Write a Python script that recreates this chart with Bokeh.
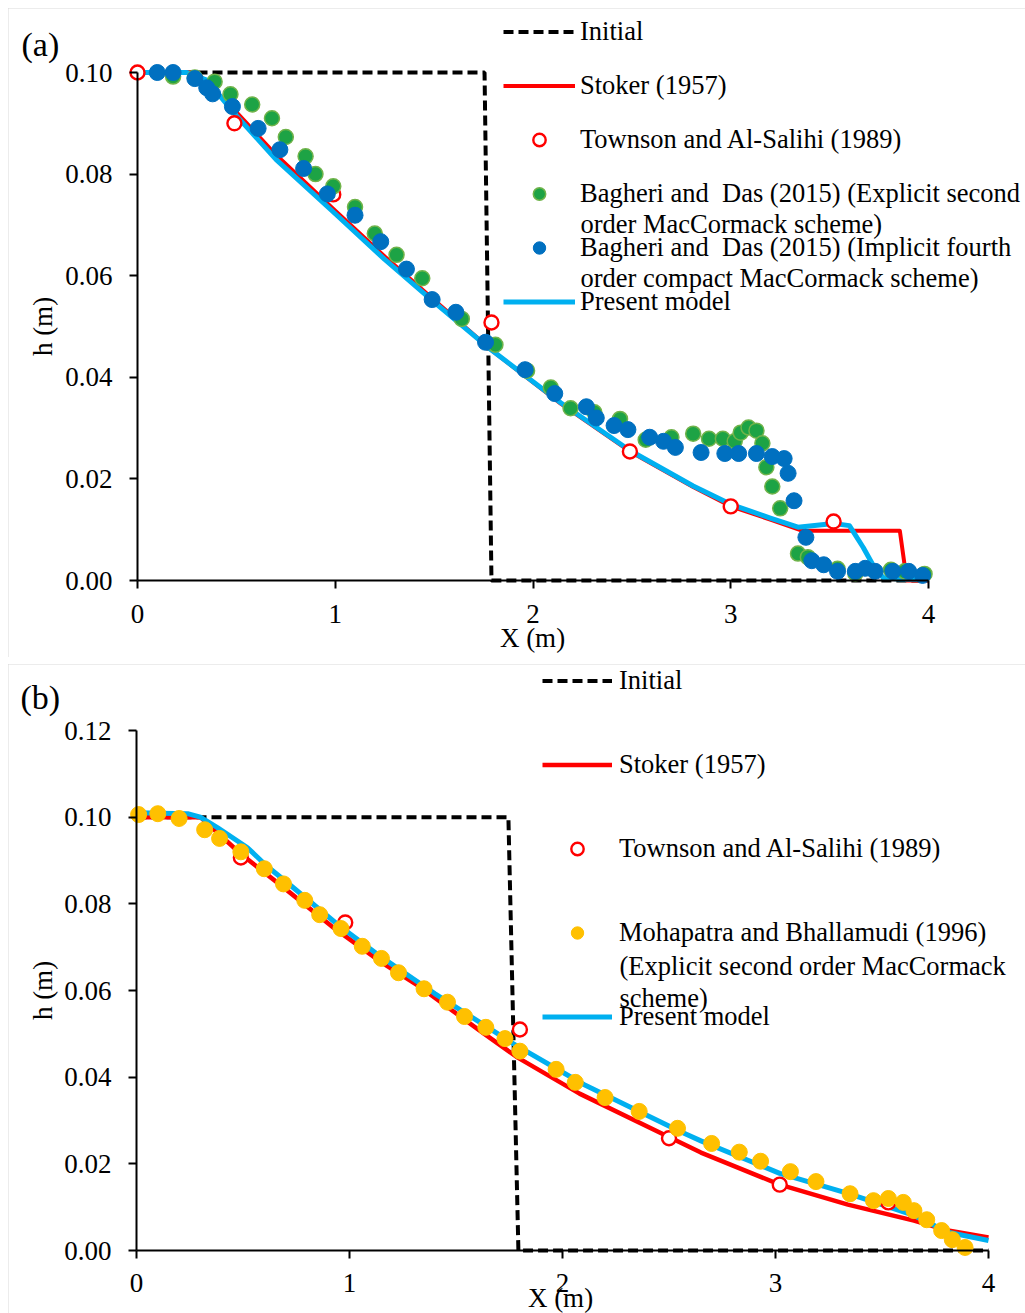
from bokeh.plotting import figure
from bokeh.models import (LinearAxis, FixedTicker, PrintfTickFormatter, Range1d,
                          Legend, LegendItem, Label)
from bokeh.layouts import column
from bokeh.embed import file_html
from bokeh.resources import INLINE

# ---------------- panel (a) ----------------
a_initial_x = [0.0, 1.755, 1.79, 4.0]
a_initial_h = [0.10, 0.10, 0.0, 0.0]

a_stoker_x = [0.0, 0.30, 0.50, 0.70, 1.00, 1.25, 1.50, 1.785, 2.14, 2.49, 2.81, 3.00,
              3.20, 3.36, 3.855, 3.89, 4.0]
a_stoker_h = [0.100, 0.100, 0.0922, 0.0838, 0.0728, 0.0638, 0.0552, 0.0455, 0.0348,
              0.0254, 0.0184, 0.0146, 0.0120, 0.0098, 0.0098, 0.0, 0.0]

a_present_x = [0.0, 0.25, 0.35, 0.50, 0.70, 1.00, 1.25, 1.50, 1.785, 2.14, 2.49, 2.81,
               3.00, 3.20, 3.34, 3.52, 3.60, 3.67, 3.72, 3.77, 3.85, 4.0]
a_present_h = [0.100, 0.100, 0.0985, 0.0915, 0.0829, 0.0722, 0.0632, 0.0548, 0.0455,
               0.0350, 0.0256, 0.0186, 0.0150, 0.0123, 0.0105, 0.0112, 0.0108, 0.0065,
               0.0030, 0.0006, 0.0003, 0.0002]

a_townson_x = [0.0, 0.49, 0.99, 1.79, 2.49, 3.00, 3.52]
a_townson_h = [0.100, 0.090, 0.076, 0.0508, 0.0254, 0.0146, 0.0116]

a_explicit_x = [0.18, 0.29, 0.39, 0.47, 0.58, 0.68, 0.75, 0.85, 0.90, 0.99, 1.10, 1.20,
                1.31, 1.44, 1.64, 1.81, 1.97, 2.09, 2.19, 2.31, 2.44, 2.57, 2.70, 2.81,
                2.89, 2.96, 3.02, 3.05, 3.09, 3.13, 3.16, 3.18, 3.21, 3.25, 3.34, 3.39,
                3.54, 3.63, 3.81, 3.88, 3.98]
a_explicit_h = [0.0992, 0.0990, 0.0982, 0.0957, 0.0937, 0.0910, 0.0873, 0.0835, 0.0800,
                0.0776, 0.0735, 0.0683, 0.0641, 0.0595, 0.0515, 0.0464, 0.0413, 0.0380,
                0.0339, 0.0331, 0.0318, 0.0277, 0.0282, 0.0289, 0.0279, 0.0279, 0.0274,
                0.0291, 0.0301, 0.0295, 0.0270, 0.0223, 0.0185, 0.0142, 0.0053, 0.0046,
                0.0023, 0.0014, 0.0021, 0.0018, 0.0013]

a_implicit_x = [0.10, 0.18, 0.29, 0.35, 0.38, 0.48, 0.61, 0.72, 0.84, 0.96, 1.10, 1.23,
                1.36, 1.49, 1.61, 1.76, 1.96, 2.11, 2.27, 2.32, 2.41, 2.48, 2.59, 2.66,
                2.72, 2.85, 2.97, 3.04, 3.13, 3.21, 3.27, 3.29, 3.32, 3.38, 3.41, 3.47,
                3.54, 3.63, 3.68, 3.73, 3.82, 3.90, 3.97]
a_implicit_h = [0.1000, 0.1000, 0.0988, 0.0970, 0.0958, 0.0933, 0.0890, 0.0848, 0.0811,
                0.0761, 0.0719, 0.0667, 0.0613, 0.0553, 0.0528, 0.0469, 0.0415, 0.0368,
                0.0342, 0.0320, 0.0305, 0.0297, 0.0282, 0.0274, 0.0262, 0.0252, 0.0250,
                0.0250, 0.0250, 0.0244, 0.0240, 0.0211, 0.0157, 0.0085, 0.0039, 0.0031,
                0.0018, 0.0018, 0.0024, 0.0018, 0.0018, 0.0018, 0.0010]

a_y_ticks = [0.0, 0.02, 0.04, 0.06, 0.08, 0.10]

# ---------------- panel (b) ----------------
b_initial_x = [0.0, 1.746, 1.793, 4.0]
b_initial_h = [0.10, 0.10, 0.0, 0.0]

b_stoker_x = [0.0, 0.30, 0.49, 0.69, 0.925, 1.15, 1.32, 1.61, 1.79, 2.08, 2.49, 2.65,
              3.02, 3.34, 3.65, 3.81, 4.0]
b_stoker_h = [0.100, 0.100, 0.0915, 0.0838, 0.0745, 0.0665, 0.0612, 0.0508, 0.0445,
              0.0362, 0.0264, 0.0226, 0.0152, 0.0106, 0.0069, 0.0046, 0.0030]

b_present_x = [0.0, 0.24, 0.30, 0.38, 0.52, 0.61, 0.70, 0.95, 1.15, 1.40, 1.77, 2.10,
               2.55, 2.65, 3.02, 3.34, 3.65, 3.81, 4.0]
b_present_h = [0.1010, 0.1008, 0.1000, 0.0976, 0.0930, 0.0888, 0.0852, 0.0750, 0.0677,
               0.0593, 0.0477, 0.0383, 0.0275, 0.0253, 0.0178, 0.0132, 0.0081, 0.0042,
               0.0023]

b_townson_x = [0.49, 0.98, 1.80, 2.50, 3.02, 3.53]
b_townson_h = [0.0907, 0.0757, 0.0510, 0.0259, 0.0152, 0.0111]

b_mohapatra_x = [0.01, 0.10, 0.20, 0.32, 0.39, 0.49, 0.60, 0.69, 0.79, 0.86, 0.96, 1.06,
                 1.15, 1.23, 1.35, 1.46, 1.54, 1.64, 1.73, 1.80, 1.97, 2.06, 2.20, 2.36,
                 2.54, 2.70, 2.83, 2.93, 3.07, 3.19, 3.35, 3.46, 3.53, 3.60, 3.65, 3.71,
                 3.78, 3.83, 3.89]
b_mohapatra_h = [0.1006, 0.1008, 0.0997, 0.0971, 0.0951, 0.0920, 0.0881, 0.0846, 0.0808,
                 0.0775, 0.0743, 0.0702, 0.0674, 0.0641, 0.0604, 0.0573, 0.0540, 0.0515,
                 0.0489, 0.0460, 0.0418, 0.0388, 0.0353, 0.0321, 0.0282, 0.0247, 0.0227,
                 0.0206, 0.0182, 0.0159, 0.0131, 0.0115, 0.0120, 0.0111, 0.0092, 0.0071,
                 0.0046, 0.0025, 0.0007]

b_y_ticks = [0.0, 0.02, 0.04, 0.06, 0.08, 0.10, 0.12]

x_ticks = [0, 1, 2, 3, 4]

# ---------------- styling ----------------
SERIF = "Liberation Serif"
RED = "#FF0000"
CYAN = "#00B0F0"
GREEN = "#1DA345"
GREEN_EDGE = "#70B34A"
BLUE = "#0070C0"
GOLD = "#FFC000"
DASH = "10 5"
PAGE_W = 1025
CANVAS_W = 1017
CANVAS_H = 649
CANVAS_LEFT = PAGE_W - CANVAS_W


def make_panel(canvas_top, x_cal, y_cal, y_max, y_ticks, x_label_standoff):
    """The plot frame fills the whole canvas; the axes sit at X=0 and h=0.
    x_cal = page x of X=0 and X=4; y_cal = page y of h=0 and of h=y_max."""
    L, R = CANVAS_LEFT, PAGE_W
    T, B = canvas_top, canvas_top + CANVAS_H
    px0, px4 = x_cal
    py0, pym = y_cal
    kx = (px4 - px0) / 4.0
    ky = (py0 - pym) / y_max
    p = figure(width=CANVAS_W, height=CANVAS_H,
               x_range=Range1d((L - px0) / kx, (R - px0) / kx),
               y_range=Range1d((py0 - B) / ky, (py0 - T) / ky),
               x_axis_type=None, y_axis_type=None,
               output_backend="svg", toolbar_location=None,
               min_border=0, min_border_left=0, min_border_right=0,
               min_border_top=0, min_border_bottom=0)
    p.outline_line_color = None
    p.background_fill_color = "white"
    p.border_fill_color = "white"

    xa = LinearAxis(fixed_location=0, bounds=(0, 4), ticker=FixedTicker(ticks=x_ticks))
    ya = LinearAxis(fixed_location=0, bounds=(0, y_max), ticker=FixedTicker(ticks=y_ticks),
                    formatter=PrintfTickFormatter(format="%.2f"))
    for ax in (xa, ya):
        ax.axis_line_color = "black"
        ax.axis_line_width = 2
        ax.major_tick_line_color = "black"
        ax.major_tick_line_width = 2
        ax.major_tick_in = 0
        ax.major_tick_out = 8
        ax.minor_tick_line_color = None
        ax.major_label_text_font = SERIF
        ax.major_label_text_font_size = "27px"
        ax.major_label_text_color = "black"
    xa.major_label_standoff = x_label_standoff
    ya.major_label_standoff = 17
    p.add_layout(xa, "below")
    p.add_layout(ya, "left")

    # page pixel -> screen offset from the frame's bottom-left corner
    def sx(px):
        return px - L

    def sy(py):
        return B - py

    return p, sx, sy


def add_text(p, sx, sy, text, px, py, size="26.5px", align="left", angle=0):
    p.add_layout(Label(x=sx(px), y=sy(py), x_units="screen", y_units="screen",
                       text=text, text_font=SERIF, text_font_size=size,
                       text_color="black", text_align=align, text_baseline="middle",
                       angle=angle, angle_units="deg"))


def make_legend(items, sx, sy, left_px, bottom_px, glyph_w, standoff, spacing):
    return Legend(items=items, location=(sx(left_px), sy(bottom_px)),
                  orientation="vertical", padding=0, margin=0, spacing=spacing,
                  glyph_width=glyph_w, glyph_height=31, label_height=31,
                  label_standoff=standoff, label_text_font=SERIF,
                  label_text_font_size="26.5px", label_text_color="black",
                  background_fill_alpha=0, border_line_alpha=0)


# ---------------- figure (a) ----------------
pa, sxa, sya = make_panel(8, (137, 928), (580, 72), 0.10, a_y_ticks, 16)

ra_init = pa.line(a_initial_x, a_initial_h, line_color="black", line_width=4, line_dash=DASH)
ra_stoker = pa.line(a_stoker_x, a_stoker_h, line_color=RED, line_width=4, line_join="round")
ra_present = pa.line(a_present_x, a_present_h, line_color=CYAN, line_width=5, line_join="round")
ra_town = pa.scatter(a_townson_x, a_townson_h, marker="circle", size=14, fill_color="white",
                     line_color=RED, line_width=2.4)
ra_expl = pa.scatter(a_explicit_x, a_explicit_h, marker="circle", size=15, fill_color=GREEN,
                     line_color=GREEN_EDGE, line_width=1.5)
ra_impl = pa.scatter(a_implicit_x, a_implicit_h, marker="circle", size=16, fill_color=BLUE,
                     line_color=BLUE, line_width=1)

pa.add_layout(make_legend([
    LegendItem(label="Initial", renderers=[ra_init]),
    LegendItem(label="Stoker (1957)", renderers=[ra_stoker]),
    LegendItem(label="Townson and Al-Salihi (1989)", renderers=[ra_town]),
    LegendItem(label="Bagheri and  Das (2015) (Explicit second", renderers=[ra_expl]),
    LegendItem(label="Bagheri and  Das (2015) (Implicit fourth", renderers=[ra_impl]),
    LegendItem(label="Present model", renderers=[ra_present]),
], sxa, sya, 503, 316.5, 72, 5, 23))
add_text(pa, sxa, sya, "order MacCormack scheme)", 580, 223)
add_text(pa, sxa, sya, "order compact MacCormack scheme)", 580, 277)
add_text(pa, sxa, sya, "(a)", 21, 44, size="34px")
add_text(pa, sxa, sya, "h (m)", 42, 326, size="27px", align="center", angle=90)
add_text(pa, sxa, sya, "X (m)", 532, 637, size="27px", align="center")

# ---------------- figure (b) ----------------
pb, sxb, syb = make_panel(664, (136, 988), (1250, 730), 0.12, b_y_ticks, 15)

rb_init = pb.line(b_initial_x, b_initial_h, line_color="black", line_width=4, line_dash=DASH)
rb_stoker = pb.line(b_stoker_x, b_stoker_h, line_color=RED, line_width=4.5, line_join="round")
rb_present = pb.line(b_present_x, b_present_h, line_color=CYAN, line_width=5, line_join="round")
rb_town = pb.scatter(b_townson_x, b_townson_h, marker="circle", size=14, fill_color="white",
                     line_color=RED, line_width=2.4)
rb_moh = pb.scatter(b_mohapatra_x, b_mohapatra_h, marker="circle", size=16, fill_color=GOLD,
                    line_color=GOLD, line_width=1)

pb.add_layout(make_legend([
    LegendItem(label="Initial", renderers=[rb_init]),
    LegendItem(label="Stoker (1957)", renderers=[rb_stoker]),
    LegendItem(label="Townson and Al-Salihi (1989)", renderers=[rb_town]),
    LegendItem(label="Mohapatra and Bhallamudi (1996)", renderers=[rb_moh]),
    LegendItem(label="Present model", renderers=[rb_present]),
], sxb, syb, 542, 1031.5, 70, 7, 53))
add_text(pb, sxb, syb, "(Explicit second order MacCormack", 619, 965)
add_text(pb, sxb, syb, "scheme)", 619, 997)
add_text(pb, sxb, syb, "(b)", 20, 697, size="34px")
add_text(pb, sxb, syb, "h (m)", 42, 990, size="27px", align="center", angle=90)
add_text(pb, sxb, syb, "X (m)", 560, 1297, size="27px", align="center")

box = {"outline": "1px solid #d9d9d9", "outline-offset": "-1px"}
pa.styles = box
pb.styles = box
pa.margin = (8, 0, 0, 8)
pb.margin = (7, 0, 0, 8)

layout = column(pa, pb, spacing=0)
open("out.html", "w").write(file_html(layout, INLINE, title="h profiles"))
